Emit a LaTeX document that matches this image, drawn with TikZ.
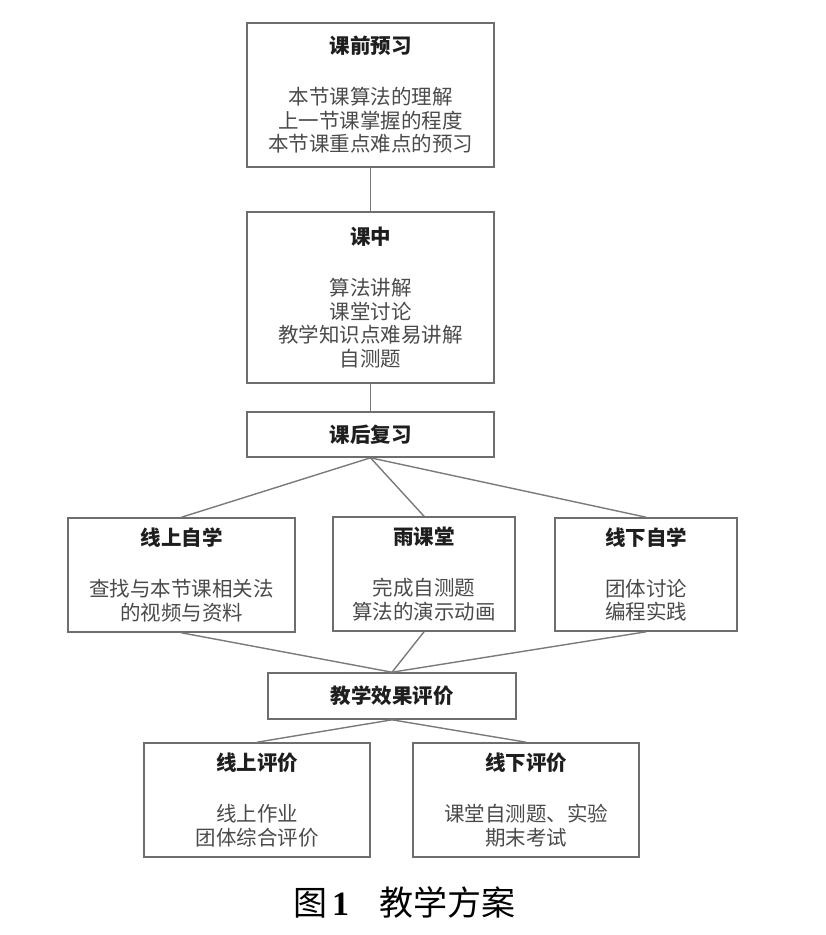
\documentclass[tikz,border=0pt]{standalone}
\usepackage{fontspec}
\setmainfont{Noto Sans CJK SC}
\newfontfamily\capserif{Liberation Serif}
\definecolor{boxgray}{HTML}{6E6E6E}
\definecolor{linegray}{HTML}{7A7A7A}
\definecolor{bodygray}{HTML}{4A4A4A}
\definecolor{titlegray}{HTML}{1E1E1E}
\newcommand{\boxtitle}[1]{\textcolor{titlegray}{\bfseries #1}}

\begin{document}
\begin{tikzpicture}[x=1pt,y=-1pt,
  box/.style={draw=boxgray, line width=1.6pt, align=center, inner sep=0pt,
    font=\fontsize{20.5}{23.5}\selectfont, text=bodygray},
  link/.style={draw=linegray, line width=1.4pt}]
\useasboundingbox (0,0) rectangle (826,935);
%
             \node [box, minimum width=247, minimum height=144] at (370.5,95) (pre)
               {\boxtitle{课前预习}\\[27.5pt]本节课算法的理解\\上一节课掌握的程度\\本节课重点难点的预习};
             \node [box, minimum width=247, minimum height=171] at (370.5,297.5) (mid)
               {\boxtitle{课中}\\[27.5pt]算法讲解\\课堂讨论\\教学知识点难易讲解\\自测题};
             \node [box, minimum width=247, minimum height=45] at (370.5,434.5) (post)
               {\boxtitle{课后复习}};
             \node [box, minimum width=227, minimum height=114] at (181.5,575) (online)
               {\boxtitle{线上自学}\\[27.5pt]查找与本节课相关法\\的视频与资料};
             \node [box, minimum width=182, minimum height=114] at (424,574) (rain)
               {\boxtitle{雨课堂}\\[27.5pt]完成自测题\\算法的演示动画};
             \node [box, minimum width=182, minimum height=113] at (646,574.5) (offline)
               {\boxtitle{线下自学}\\[27.5pt]团体讨论\\编程实践};
             \node [box, minimum width=248, minimum height=46] at (392,696) (eval)
               {\boxtitle{教学效果评价}};
             \node [box, minimum width=226, minimum height=114] at (257,800) (oneval)
               {\boxtitle{线上评价}\\[27.5pt]线上作业\\团体综合评价};
             \node [box, minimum width=226, minimum height=114] at (526,800) (offeval)
               {\boxtitle{线下评价}\\[27.5pt]课堂自测题、实验\\期末考试};
             \node [font=\fontsize{34}{40}\selectfont, text=black] at (404,902) (cap)
               {图\hspace{5pt}{\capserif\bfseries 1}\hspace{30pt}教学方案};
%
\draw[link] (pre)--(mid);
\draw[link] (mid)--(post);
\draw[link] (post.south)--(online.north);
\draw[link] (post.south)--(rain.north);
\draw[link] (post.south)--(offline.north);
\draw[link] (online.south)--(eval.north);
\draw[link] (rain.south)--(eval.north);
\draw[link] (offline.south)--(eval.north);
\draw[link] (eval.south)--(oneval.north);
\draw[link] (eval.south)--(offeval.north);
\end{tikzpicture}
\end{document}
